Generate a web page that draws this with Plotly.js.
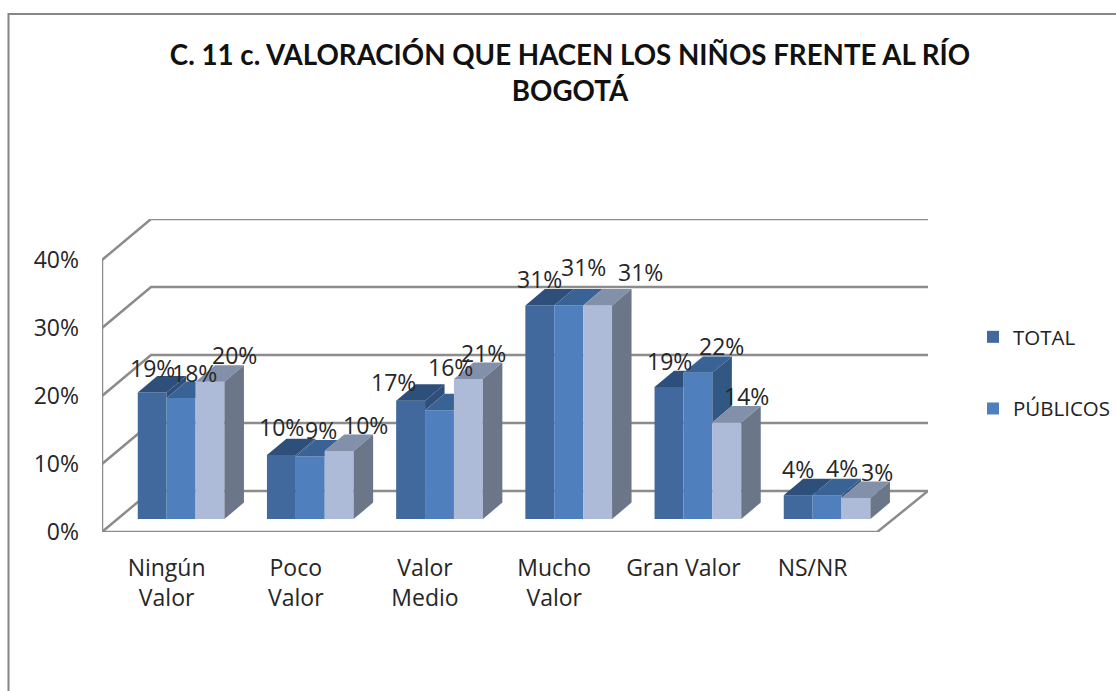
<!DOCTYPE html>
<html><head><meta charset="utf-8">
<script src="https://cdn.plot.ly/plotly-3.0.1.min.js"></script>
<style>html,body{margin:0;padding:0;background:#fff}#c{width:1116px;height:691px}</style>
</head><body><div id="c"></div>
<script>
// ---- data ----
const categories = ['Ningún Valor','Poco Valor','Valor Medio','Mucho Valor','Gran Valor','NS/NR'];
const tickText = ['Ningún<br>Valor','Poco<br>Valor','Valor<br>Medio','Mucho<br>Valor','Gran Valor','NS/NR'];
const total    = [18.6, 9.4, 17.4, 31.4, 19.4, 3.5];
const publicos = [17.8, 9.2, 16.0, 31.4, 21.5, 3.5];
const privados = [20.2, 10.0, 20.6, 31.4, 14.2, 3.1];
const totalLabels    = ['19%','10%','17%','31%','19%','4%'];
const publicosLabels = ['18%','9%','16%','31%','22%','4%'];
const privadosLabels = ['20%','10%','21%','31%','14%','3%'];
const yTicks = [0,10,20,30,40];
const yTickText = ['0%','10%','20%','30%','40%'];

// ---- geometry of the fake 3-D box, in axis units ----
const W=1116,H=691;
const pxX=129.2, pxY=6.8;
const wallDx=49/pxX, wallDy=41/pxY;
const barW=28.9/pxX, barBase=13/pxY, barShift=14.5/pxX;
const depthX=19.5/pxX, depthY=16.4/pxY;
const xMin=-0.5, xMax=xMin+(928-102)/pxX, yMax=(532-219)/pxY;
const floorRight=xMin+categories.length;

const seriesInfo=[
 {name:'TOTAL',vals:total,labels:totalLabels,front:'#41699e',top:'#2f4f7b',side:'#2f4f7b',legend:true},
 {name:'PÚBLICOS',vals:publicos,labels:publicosLabels,front:'#4f80bd',top:'#396295',side:'#335783',legend:true},
 {name:'PRIVADOS',vals:privados,labels:privadosLabels,front:'#adbbd8',top:'#8290aa',side:'#6b7789',legend:false}
];
const labelDx=[[0,0,-17,0,0,0],[13,11,11,15,24,15],[24,26,15,43,20,21]];
const labelDy=[[25,28,19,26,26,26],[25,26,43,38,27,27],[27,26,26,33,26,26]];

const barX=(c,s)=>c+barShift+(s-1)*barW;
const traces=[], annotations=[];
seriesInfo.forEach((s,si)=>{
  traces.push({type:'bar',name:s.name,legendgroup:s.name,showlegend:s.legend,
    x:categories.map((_,c)=>barX(c,si)),y:s.vals,base:categories.map(()=>barBase),width:barW,
    marker:{color:s.front,line:{width:0}},hoverinfo:'skip'});
});
function poly(px,py,color){
  traces.push({type:'scatter',mode:'lines',x:[...px,px[0]],y:[...py,py[0]],fill:'toself',fillcolor:color,
    line:{width:0,color:color},showlegend:false,hoverinfo:'skip'});
}
categories.forEach((_,c)=>{
  seriesInfo.forEach((s,si)=>{
    const h=barBase+s.vals[c];
    const next=si<2?barBase+seriesInfo[si+1].vals[c]:null;
    const xl=barX(c,si)-barW/2,xr=xl+barW;
    if(next!==null && next>h){
      const px=[xl,xr,xr],py=[h,h,Math.min(next,h+depthY)];
      if(next<h+depthY){px.push(xr+depthX*(h+depthY-next)/depthY);py.push(h+depthY);}
      px.push(xl+depthX);py.push(h+depthY);
      poly(px,py,s.top);
    }else{
      poly([xl,xr,xr+depthX,xl+depthX],[h,h,h+depthY,h+depthY],s.top);
      const b=next===null?barBase:next;
      poly([xr,xr,xr+depthX,xr+depthX],[b,h,h+depthY,b+depthY],s.side);
    }
    annotations.push({x:barX(c,si),y:h,xref:'x',yref:'y',text:s.labels[c],showarrow:false,
      xanchor:'center',yanchor:'middle',xshift:labelDx[si][c],yshift:labelDy[si][c],
      font:{family:'Open Sans',size:23,color:'#262626'}});
  });
});

// walls as axis-referenced shapes beneath the traces
const grey='#8c8c8c';
const shapes=[];
yTicks.forEach(t=>{
  shapes.push({type:'path',layer:'below',xref:'x',yref:'y',
    path:`M ${xMin} ${t} L ${xMin+wallDx} ${t+wallDy} L ${xMax} ${t+wallDy}`,line:{color:grey,width:2.5}});
});
shapes.push({type:'path',layer:'below',xref:'x',yref:'y',
  path:`M ${xMin} 40 L ${xMin} 0 L ${floorRight} 0 L ${xMax} ${wallDy}`,line:{color:grey,width:2.5}});
// picture frame
shapes.push({type:'path',layer:'below',xref:'paper',yref:'paper',
  path:`M ${8.5/W} 0 L ${8.5/W} ${1-14/H} L 1 ${1-14/H}`,line:{color:'#868686',width:2}});

Plotly.newPlot('c',traces,{
  width:W,height:H,autosize:false,margin:{l:0,r:0,t:0,b:0},
  paper_bgcolor:'#fff',plot_bgcolor:'rgba(0,0,0,0)',barmode:'overlay',
  title:{text:'C. 11 c. VALORACIÓN QUE HACEN LOS NIÑOS FRENTE AL RÍO<br>BOGOTÁ',
    x:570/W,xanchor:'center',y:1-65/H,yanchor:'middle',
    font:{family:'Lato',size:27.7,color:'#111',weight:700}},
  xaxis:{domain:[102/W,928/W],range:[xMin,xMax],showgrid:false,zeroline:false,showline:false,
    tickmode:'array',tickvals:categories.map((_,i)=>i),ticktext:tickText,ticks:'',ticklabelstandoff:20,
    tickfont:{family:'Open Sans',size:23,color:'#262626'}},
  yaxis:{domain:[1-532/H,1-219/H],range:[0,yMax],showgrid:false,zeroline:false,showline:false,
    tickmode:'array',tickvals:yTicks,ticktext:yTickText,ticks:'',ticklabelstandoff:22,
    tickfont:{family:'Open Sans',size:23,color:'#262626'}},
  legend:{x:973/W,xanchor:'left',y:1-317/H,yanchor:'top',tracegroupgap:42,
    font:{family:'Open Sans',size:20.5,color:'#222'},bgcolor:'rgba(0,0,0,0)'},
  shapes:shapes,annotations:annotations
},{displayModeBar:false,staticPlot:true});
</script></body></html>
